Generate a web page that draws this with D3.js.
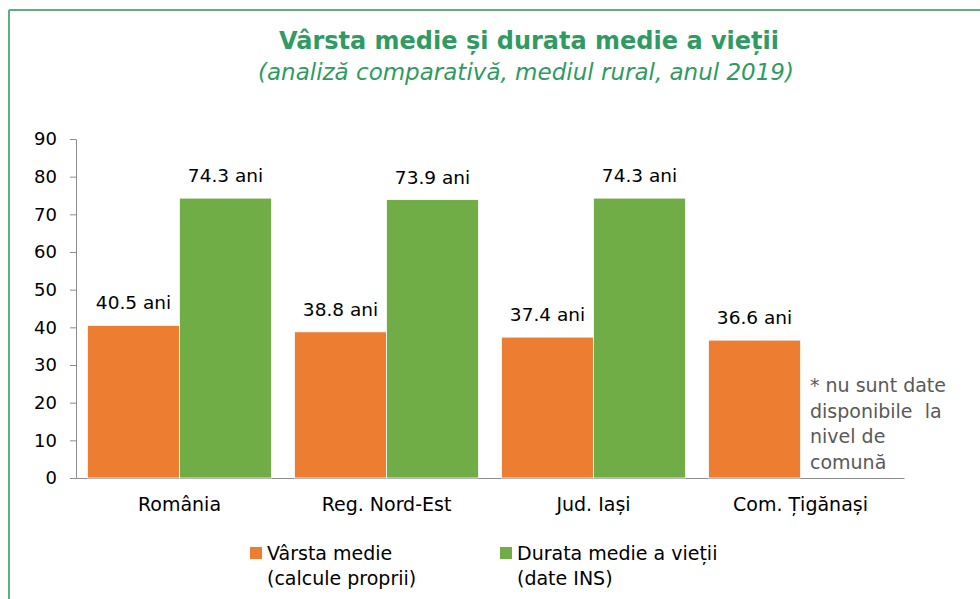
<!DOCTYPE html>
<html>
<head>
<meta charset="utf-8">
<script src="https://cdn.jsdelivr.net/npm/d3@7"></script>
<style>
  body { margin: 0; background: #fff; }
  svg { display: block; font-family: "DejaVu Sans", Verdana, sans-serif; }
</style>
</head>
<body>
<div id="chart"></div>
<script>
// data
const categories = ['România', 'Reg. Nord-Est', 'Jud. Iași', 'Com. Țigănași'];
const seriesNames = ['Vârsta medie', 'Durata medie a vieții'];
const seriesSubs = ['(calcule proprii)', '(date INS)'];
const varstaMedie = [40.5, 38.8, 37.4, 36.6];
const durataMedie = [74.3, 73.9, 74.3, null];
const yTicks = [0, 10, 20, 30, 40, 50, 60, 70, 80, 90];
const noteLines = ['* nu sunt date', 'disponibile  la', 'nivel de', 'comună'];

const colors = ['#ED7D31', '#70AD47'];
const width = 980, height = 599;
const margin = { top: 139, right: 76, bottom: 121, left: 76 };
const fontFam = '"DejaVu Sans", Verdana, sans-serif';

const svg = d3.select('#chart').append('svg')
    .attr('width', width)
    .attr('height', height);

// frame lines (top + left)
svg.append('line').attr('x1', 9).attr('x2', width).attr('y1', 10).attr('y2', 10)
    .attr('stroke', '#5fae82').attr('stroke-width', 2);
svg.append('line').attr('x1', 9).attr('x2', 9).attr('y1', 10).attr('y2', height)
    .attr('stroke', '#5fae82').attr('stroke-width', 2);

// title
svg.append('text')
    .attr('x', 529).attr('y', 49)
    .attr('text-anchor', 'middle')
    .attr('font-size', '24px')
    .attr('font-weight', 'bold')
    .attr('fill', '#2f9a62')
    .text('Vârsta medie și durata medie a vieții');
svg.append('text')
    .attr('x', 526).attr('y', 80)
    .attr('text-anchor', 'middle')
    .attr('font-size', '23px')
    .attr('font-style', 'italic')
    .attr('fill', '#2f9a62')
    .text('(analiză comparativă, mediul rural, anul 2019)');

const x0 = d3.scaleBand()
    .domain(categories)
    .range([margin.left, width - margin.right])
    .paddingInner(0).paddingOuter(0);

const x1 = d3.scaleBand()
    .domain([0, 1])
    .range([0, x0.bandwidth()])
    .paddingInner(0).paddingOuter(0.125);

const y = d3.scaleLinear()
    .domain([0, 90])
    .range([height - margin.bottom, margin.top]);

// y axis
const yAxis = svg.append('g')
    .attr('transform', `translate(${margin.left},0)`)
    .call(d3.axisLeft(y).tickValues(yTicks).tickSize(6).tickSizeOuter(0).tickPadding(13));
yAxis.select('.domain').attr('stroke', '#8c8c8c');
yAxis.selectAll('.tick line').attr('stroke', '#8c8c8c');
yAxis.selectAll('.tick text').attr('font-size', '18px').attr('fill', '#000')
    .attr('font-family', fontFam);

// x axis
const xAxis = svg.append('g')
    .attr('transform', `translate(0,${y(0)})`)
    .call(d3.axisBottom(x0).tickSize(0).tickPadding(20));
xAxis.select('.domain').attr('stroke', '#8c8c8c');
xAxis.selectAll('.tick text').attr('font-size', '19px').attr('fill', '#000')
    .attr('font-family', fontFam);

// bars
const series = [varstaMedie, durataMedie];
series.forEach((vals, si) => {
    const data = categories.map((c, i) => ({ cat: c, v: vals[i] })).filter(d => d.v != null);
    const g = svg.append('g');
    g.selectAll('rect').data(data).enter().append('rect')
        .attr('x', d => x0(d.cat) + x1(si))
        .attr('y', d => y(d.v))
        .attr('width', x1.bandwidth())
        .attr('height', d => y(0) - y(d.v))
        .attr('fill', colors[si])
        .attr('stroke', '#fff')
        .attr('stroke-width', 0.75);
    g.selectAll('text').data(data).enter().append('text')
        .attr('x', d => x0(d.cat) + x1(si) + x1.bandwidth() / 2)
        .attr('y', d => y(d.v) - 16)
        .attr('text-anchor', 'middle')
        .attr('font-size', '18.5px')
        .attr('fill', '#000')
        .text(d => d.v.toFixed(1) + ' ani');
});

// note for missing data
const note = svg.append('text')
    .attr('font-size', '19px')
    .attr('fill', '#595959');
noteLines.forEach((t, i) => {
    note.append('tspan')
        .attr('x', 810)
        .attr('y', 392 + i * 25.5)
        .attr('xml:space', 'preserve')
        .text(t);
});

// legend
const legendX = [250, 500];
seriesNames.forEach((name, i) => {
    const lg = svg.append('g').attr('transform', `translate(${legendX[i]},0)`);
    lg.append('rect').attr('x', 0).attr('y', 547).attr('width', 12).attr('height', 12)
        .attr('fill', colors[i]);
    lg.append('text').attr('x', 17).attr('y', 560)
        .attr('font-size', '19px').attr('fill', '#000').text(name);
    lg.append('text').attr('x', 17).attr('y', 585)
        .attr('font-size', '19px').attr('fill', '#000').text(seriesSubs[i]);
});
</script>
</body>
</html>
